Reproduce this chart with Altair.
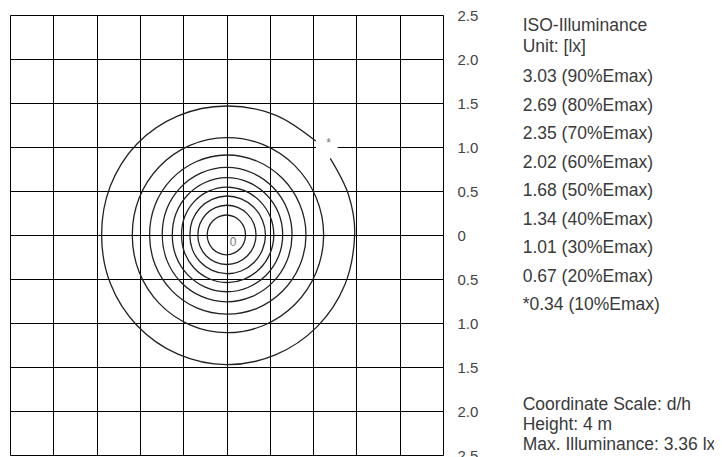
import altair as alt
import pandas as pd
import numpy as np

# grid (d/h units)
grid_vals = [-2.5, -2.0, -1.5, -1.0, -0.5, 0.0, 0.5, 1.0, 1.5, 2.0, 2.5]

# closed iso-lines: radius (d/h) read at angles 0, 22.5, ..., 337.5 degrees
ring_angles = [0, 22.5, 45, 67.5, 90, 112.5, 135, 157.5, 180, 202.5, 225, 247.5, 270, 292.5, 315, 337.5]
ring_levels = ["90%", "80%", "70%", "60%", "50%", "40%", "30%", "20%"]
r_90 = [0.219, 0.221, 0.223, 0.225, 0.227, 0.226, 0.225, 0.224, 0.223, 0.223, 0.224, 0.224, 0.225, 0.224, 0.222, 0.220]
r_80 = [0.341, 0.341, 0.340, 0.339, 0.338, 0.336, 0.334, 0.332, 0.331, 0.332, 0.333, 0.334, 0.335, 0.337, 0.338, 0.340]
r_70 = [0.450, 0.448, 0.446, 0.444, 0.443, 0.438, 0.433, 0.428, 0.423, 0.427, 0.431, 0.436, 0.440, 0.443, 0.445, 0.448]
r_60 = [0.546, 0.546, 0.545, 0.545, 0.545, 0.539, 0.532, 0.525, 0.519, 0.524, 0.530, 0.535, 0.540, 0.542, 0.543, 0.545]
r_50 = [0.649, 0.650, 0.650, 0.651, 0.652, 0.646, 0.639, 0.632, 0.626, 0.631, 0.636, 0.641, 0.645, 0.646, 0.647, 0.648]
r_40 = [0.757, 0.760, 0.763, 0.766, 0.768, 0.763, 0.757, 0.750, 0.742, 0.746, 0.751, 0.756, 0.760, 0.759, 0.758, 0.757]
r_30 = [0.918, 0.915, 0.912, 0.910, 0.909, 0.904, 0.898, 0.893, 0.888, 0.891, 0.894, 0.897, 0.900, 0.905, 0.909, 0.914]
r_20 = [1.122, 1.119, 1.115, 1.111, 1.107, 1.103, 1.098, 1.093, 1.088, 1.093, 1.099, 1.105, 1.110, 1.113, 1.116, 1.119]
ring_radii = [r_90, r_80, r_70, r_60, r_50, r_40, r_30, r_20]

# outer 10% iso-line (open arc, gap at the '*' label)
outer_angles = [46, 67.5, 90, 112.5, 135, 157.5, 180, 202.5, 225, 247.5, 270, 292.5, 315, 337.5, 360, 378, 396]
outer_r = [1.484, 1.475, 1.466, 1.465, 1.463, 1.452, 1.442, 1.450, 1.458, 1.466, 1.473, 1.475, 1.477, 1.479, 1.480, 1.481, 1.481]

# legend texts
legend_head = ["ISO-Illuminance", "Unit: [lx]"]
legend_items = ["3.03 (90%Emax)", "2.69 (80%Emax)", "2.35 (70%Emax)", "2.02 (60%Emax)",
                "1.68 (50%Emax)", "1.34 (40%Emax)", "1.01 (30%Emax)", "0.67 (20%Emax)",
                "*0.34 (10%Emax)"]
legend_foot = ["Coordinate Scale: d/h", "Height: 4 m", "Max. Illuminance: 3.36 lx"]

# build tables
rows = []
for lvl, radii in zip(ring_levels, ring_radii):
    for i, (a, r) in enumerate(zip(ring_angles, radii)):
        t = np.deg2rad(a)
        rows.append({"level": lvl, "seq": i, "x": r * np.cos(t), "y": r * np.sin(t)})
rings = pd.DataFrame(rows)

orows = []
for i, (a, r) in enumerate(zip(outer_angles, outer_r)):
    t = np.deg2rad(a)
    orows.append({"level": "10%", "seq": i, "x": r * np.cos(t), "y": r * np.sin(t)})
outer = pd.DataFrame(orows)

texts = []
for i, s in enumerate(legend_head):
    texts.append({"t": s, "py": 10.5 + i * 21})
for i, s in enumerate(legend_items):
    texts.append({"t": s, "py": 62 + i * 28.5})
for i, s in enumerate(legend_foot):
    texts.append({"t": s, "py": 390 + i * 20})
legend_df = pd.DataFrame(texts)

FONT = "Liberation Sans"

xs = alt.Scale(domain=[-2.5, 2.5], nice=False, zero=False)
ys = alt.Scale(domain=[-2.5, 2.5], nice=False, zero=False)
xaxis = alt.Axis(values=grid_vals, grid=True, labels=False, ticks=False, domain=False,
                 title=None, gridColor="#000000", gridOpacity=1, gridWidth=1)
yaxis = alt.Axis(values=grid_vals, grid=True, orient="right", ticks=False, domain=False,
                 title=None, gridColor="#000000", gridOpacity=1, gridWidth=1,
                 labelExpr="datum.value == 0 ? '0' : format(abs(datum.value), '.1f')",
                 labelPadding=14, labelFontSize=15, labelColor="#444444", labelFont=FONT,
                 labelAlign="left", labelBaseline="middle")

X = alt.X("x:Q", scale=xs, axis=xaxis)
Y = alt.Y("y:Q", scale=ys, axis=yaxis)

ring_layer = alt.Chart(rings).mark_line(
    interpolate="cardinal-closed", color="#222222", strokeWidth=1.3
).encode(x=X, y=Y, detail="level:N", order="seq:Q")

outer_layer = alt.Chart(outer).mark_line(
    interpolate="cardinal", color="#222222", strokeWidth=1.3
).encode(x=X, y=Y, detail="level:N", order="seq:Q")

# white patch behind the '*' label on the 1.0 grid line
gap_df = pd.DataFrame({"x": [1.033], "x2": [1.284], "y": [1.06], "y2": [0.94]})
gap_layer = alt.Chart(gap_df).mark_rect(color="white").encode(
    x=X, x2="x2:Q", y=Y, y2="y2:Q")

ann_df = pd.DataFrame({"x": [1.18, 0.076], "y": [1.05, -0.075], "t": ["*", "0"]})
ann_layer = alt.Chart(ann_df).mark_text(
    font=FONT, fill="#777777", align="center", baseline="middle", fontSize=12
).encode(x=X, y=Y, text="t:N")

legend_layer = alt.Chart(legend_df).mark_text(
    font=FONT, fontSize=17.5, fill="#3a3a3a", align="left", baseline="middle"
).encode(x=alt.value(512.7), y=alt.Y("py:Q", scale=None), text="t:N")

chart = alt.layer(gap_layer, ring_layer, outer_layer, ann_layer, legend_layer).properties(
    width=433, height=440,
    autosize=alt.AutoSizeParams(type="none"),
    padding={"left": 2, "top": 7, "right": 271, "bottom": 2},
).configure_view(stroke="#000000", strokeWidth=1).configure(background="white")

chart.save("out.html", embed_options={"renderer": "svg", "actions": False})
